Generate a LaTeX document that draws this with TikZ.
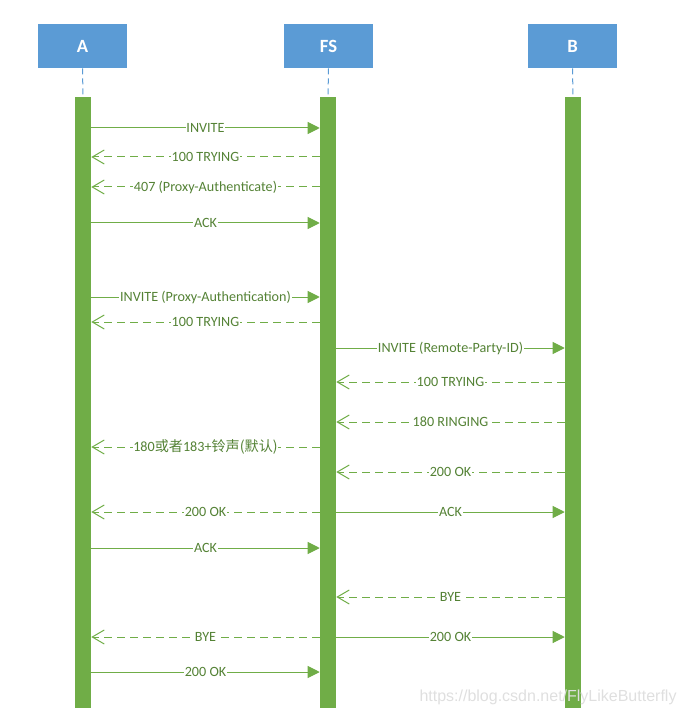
\documentclass[tikz,border=0pt]{standalone}
\usepackage{fontspec}
\setmainfont{Carlito}
\newfontfamily\cjk{Noto Sans CJK SC}
\newfontfamily\wmfont{Liberation Sans}
\usetikzlibrary{arrows.meta}
\definecolor{hdr}{HTML}{5B9BD5}
\definecolor{barc}{HTML}{70AD47}
\definecolor{txtc}{HTML}{548235}
\newcommand\msgline[7]{% name, y, from, to, style, label
  \coordinate (#1s) at (#3 |- 0,#2);
  \coordinate (#1e) at (#4 |- 0,#2);
  \draw[#5] (#1s) -- node[lbl]{#6} (#1e);}
\begin{document}
\begin{tikzpicture}[x=0.75pt,y=-0.75pt,
  hdrbox/.style={fill=hdr, draw=none, minimum width=66.75pt, minimum height=33pt, inner sep=0pt,
    text=white, font=\bfseries\fontsize{14}{16}\selectfont},
  lifebar/.style={fill=barc, draw=none, minimum width=12pt, minimum height=458.25pt, inner sep=0pt},
  lifeline/.style={draw=hdr, line width=0.75pt, dash pattern=on 4.5pt off 3pt},
  lbl/.style={fill=white, inner sep=0.6pt, text=txtc, font=\fontsize{10.6}{12}\selectfont},
  callmsg/.style={draw=barc, line width=0.75pt, -{Triangle[length=9pt,width=9pt]}},
  replymsg/.style={draw=barc, line width=0.75pt, dash pattern=on 6pt off 3.75pt,
    -{Straight Barb[length=9pt,width=10.5pt,line width=0.75pt]}},
  watermark/.style={text=gray!25, font=\wmfont\fontsize{12}{14}\selectfont, inner sep=0pt}]
\useasboundingbox (0,0) rectangle (684,716);
% headers
\node[hdrbox] (hA) at (82.5,46) {A};
\node[hdrbox] (hF) at (328.5,46) {FS};
\node[hdrbox] (hB) at (572.5,46) {B};
% bars
\node[lifebar] (bA) at (83,402.5) {};
\node[lifebar] (bF) at (328,402.5) {};
\node[lifebar] (bB) at (573,402.5) {};
\draw[lifeline] (hA.south) -- (bA.north);
\draw[lifeline] (hF.south) -- (bF.north);
\draw[lifeline] (hB.south) -- (bB.north);
% messages
\msgline{m1}{128}{bA.east}{bF.west}{callmsg}{INVITE}{}
\msgline{m2}{157}{bF.west}{bA.east}{replymsg}{100 TRYING}{}
\msgline{m3}{187}{bF.west}{bA.east}{replymsg}{407 (Proxy-Authenticate)}{}
\msgline{m4}{223}{bA.east}{bF.west}{callmsg}{ACK}{}
\msgline{m5}{297}{bA.east}{bF.west}{callmsg}{INVITE (Proxy-Authentication)}{}
\msgline{m6}{322}{bF.west}{bA.east}{replymsg}{100 TRYING}{}
\msgline{m7}{348}{bF.east}{bB.west}{callmsg}{INVITE (Remote-Party-ID)}{}
\msgline{m8}{382}{bB.west}{bF.east}{replymsg}{100 TRYING}{}
\msgline{m9}{422}{bB.west}{bF.east}{replymsg}{180 RINGING}{}
\msgline{m10}{447}{bF.west}{bA.east}{replymsg}{180{\cjk 或者}183+{\cjk 铃声(默认)}}{}
\msgline{m11}{472}{bB.west}{bF.east}{replymsg}{200 OK}{}
\msgline{m12}{512}{bF.west}{bA.east}{replymsg}{200 OK}{}
\msgline{m13}{512}{bF.east}{bB.west}{callmsg}{ACK}{}
\msgline{m14}{548}{bA.east}{bF.west}{callmsg}{ACK}{}
\msgline{m15}{597}{bB.west}{bF.east}{replymsg}{BYE}{}
\msgline{m16}{637}{bF.west}{bA.east}{replymsg}{BYE}{}
\msgline{m17}{637}{bF.east}{bB.west}{callmsg}{200 OK}{}
\msgline{m18}{672}{bA.east}{bF.west}{callmsg}{200 OK}{}
% watermark
\node[watermark] (wm) at (548,697) {https://blog.csdn.net/FlyLikeButterfly};
\end{tikzpicture}
\end{document}
